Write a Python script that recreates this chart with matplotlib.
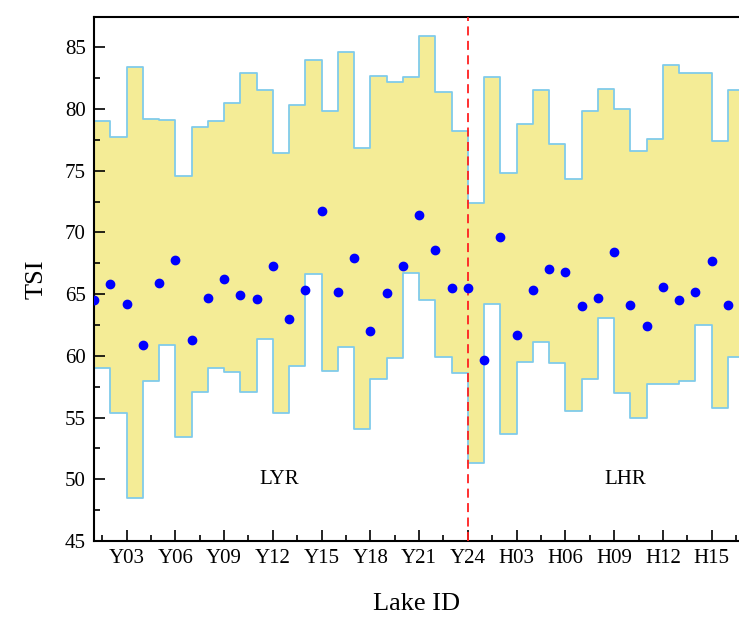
import matplotlib.pyplot as plt
import numpy as np

plt.rcParams['font.family'] = ['Liberation Serif', 'DejaVu Serif']

# Lake IDs: Y01-Y24 and H01-H17
lake_ids = [f"Y{i:02d}" for i in range(1, 25)] + [f"H{i:02d}" for i in range(1, 18)]

tsi_upper = [80.9, 79.0, 77.7, 83.4, 79.2, 79.1, 74.6, 78.5, 79.0, 80.5,
             82.9, 81.5, 76.4, 80.3, 84.0, 79.8, 84.6, 76.8, 82.7, 82.2,
             82.6, 85.9, 81.4, 78.2,
             72.4, 82.6, 74.8, 78.8, 81.5, 77.2, 74.3, 79.8, 81.6, 80.0,
             76.6, 77.6, 83.6, 82.9, 82.9, 77.4, 81.5]
tsi_lower = [58.6, 59.0, 55.4, 48.5, 58.0, 60.9, 53.4, 57.1, 59.0, 58.7,
             57.1, 61.4, 55.4, 59.2, 66.6, 58.8, 60.7, 54.1, 58.1, 59.8,
             66.7, 64.5, 59.9, 58.6,
             51.3, 64.2, 53.7, 59.5, 61.1, 59.4, 55.5, 58.1, 63.1, 57.0,
             55.0, 57.7, 57.75, 58.0, 62.5, 55.8, 59.9]
tsi_mean = [64.5, 65.8, 64.2, 60.9, 65.9, 67.8, 61.3, 64.7, 66.2, 64.9,
            64.6, 67.3, 63.0, 65.3, 71.7, 65.2, 67.9, 62.0, 65.1, 67.3,
            71.4, 68.6, 65.5, 65.5,
            59.7, 69.6, 61.7, 65.3, 67.0, 66.8, 64.0, 64.7, 68.4, 64.1,
            62.4, 65.6, 64.5, 65.2, 67.7, 64.1, 66.0]

x = np.arange(len(lake_ids))

fig = plt.figure(figsize=(7.39, 6.19), dpi=100)
ax = fig.add_axes([94 / 739, 78 / 619, 645 / 739, 524 / 619])

fill_color = '#F4EC96'
edge_color = '#80CBEA'

ax.fill_between(x, tsi_lower, tsi_upper, step='pre', color=fill_color, lw=0, zorder=1)
ax.step(x, tsi_upper, where='pre', color=edge_color, lw=1.3, zorder=2)
ax.step(x, tsi_lower, where='pre', color=edge_color, lw=1.3, zorder=2)
ax.plot(x, tsi_mean, 'o', color='#0000FF', ms=6, zorder=4)

# divider between the two lake groups
ax.axvline(lake_ids.index('Y24'), color='#FF2020', ls=(0, (5, 3)), lw=1.3, zorder=3)

ax.text(11.4, 50, 'LYR', fontsize=15, ha='center', va='center')
ax.text(32.7, 50, 'LHR', fontsize=15, ha='center', va='center')

ax.set_xlim(0, 39.68)
ax.set_ylim(45, 87.45)

major = x[2::3]
ax.set_xticks(major)
ax.set_xticklabels([lake_ids[i] for i in major])
ax.set_xticks(np.arange(0.5, 40, 3), minor=True)
ax.set_yticks(np.arange(45, 86, 5))
ax.set_yticks(np.arange(47.5, 86, 5), minor=True)

ax.tick_params(which='both', direction='in', labelsize=15, width=1.2)
ax.tick_params(which='major', length=8, pad=6)
ax.tick_params(which='minor', length=4)

for side in ['left', 'bottom', 'top']:
    ax.spines[side].set_linewidth(1.5)
ax.spines['right'].set_visible(False)

ax.set_ylabel('TSI', fontsize=19, labelpad=12)
ax.set_xlabel('Lake ID', fontsize=19, labelpad=18)

fig.savefig('out.png', dpi=100)
